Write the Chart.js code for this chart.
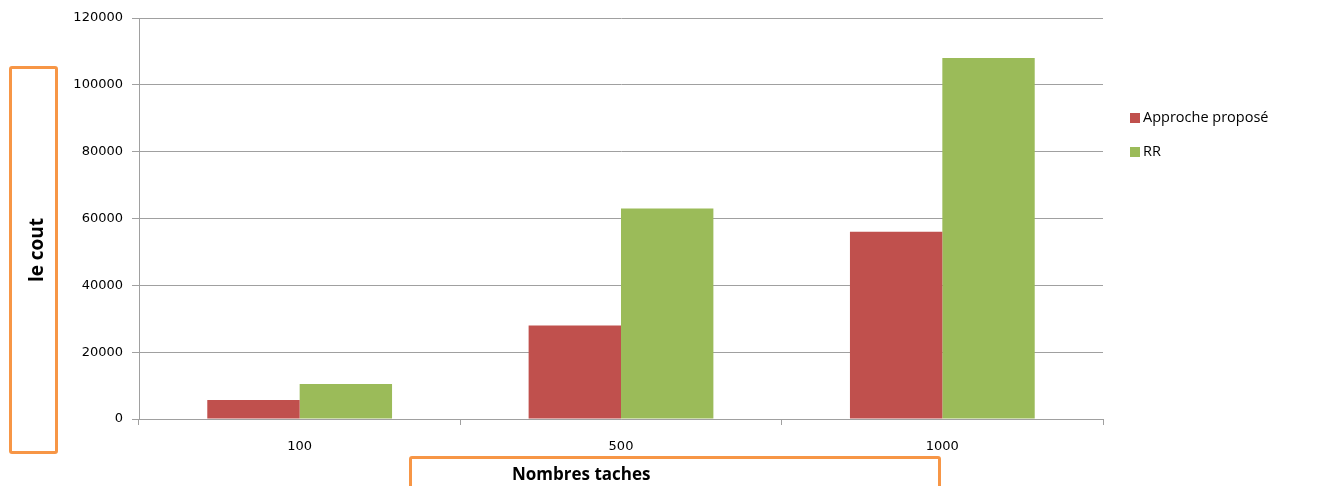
<!DOCTYPE html>
<html>
<head>
<meta charset="utf-8">
<script src="https://cdn.jsdelivr.net/npm/chart.js@4"></script>
<style>
    html, body { margin: 0; padding: 0; background: #fff; }
    #wrap { position: relative; width: 1324px; height: 486px; overflow: hidden; }
    canvas { position: absolute; left: 0; top: 0; }
    .box { position: absolute; border: 3px solid #F79646; border-radius: 3px; box-sizing: border-box; }
    .title { position: absolute; font-family: "Open Sans", sans-serif; font-weight: bold; color: #000; white-space: nowrap; line-height: 1; }
</style>
</head>
<body>
<div id="wrap">
    <canvas id="chart" width="1324" height="486"></canvas>
    <div class="box" style="left:9px; top:66px; width:49px; height:388px;"></div>
    <div class="box" style="left:409px; top:456px; width:532px; height:40px;"></div>
    <div class="title" style="left:36px; top:250px; font-size:19px; transform: translate(-50%, -50%) rotate(-90deg);">le cout</div>
    <div class="title" style="left:512px; top:465px; font-size:17px;">Nombres taches</div>
</div>
<script>
// Data
const categories = ['100', '500', '1000'];
const approcheValues = [5700, 28000, 56000];
const rrValues = [10500, 63000, 108000];
const yMax = 120000;
const yStep = 20000;

const axisColor = '#a0a0a0';

// Legend drawn to the right of the plot area
const sideLegend = {
    id: 'sideLegend',
    afterDraw(chart) {
        const ctx = chart.ctx;
        const x = chart.chartArea.right + 27;
        ctx.save();
        ctx.font = '14.5px "Open Sans", sans-serif';
        ctx.textBaseline = 'middle';
        chart.data.datasets.forEach((ds, i) => {
            const y = 118 + i * 34;
            ctx.fillStyle = ds.backgroundColor;
            ctx.fillRect(x, y - 5, 10, 10);
            ctx.fillStyle = '#000';
            ctx.fillText(ds.label, x + 13, y);
        });
        ctx.restore();
    }
};

new Chart(document.getElementById('chart'), {
    type: 'bar',
    data: {
        labels: categories,
        datasets: [
            {
                label: 'Approche proposé',
                data: approcheValues,
                backgroundColor: '#C0504D',
                categoryPercentage: 0.575,
                barPercentage: 1
            },
            {
                label: 'RR',
                data: rrValues,
                backgroundColor: '#9BBB59',
                categoryPercentage: 0.575,
                barPercentage: 1
            }
        ]
    },
    options: {
        responsive: false,
        animation: false,
        layout: {
            padding: { left: 0, top: 18, right: 221, bottom: 0 }
        },
        plugins: {
            legend: { display: false },
            tooltip: { enabled: false }
        },
        scales: {
            x: {
                grid: {
                    offset: true,
                    drawOnChartArea: false,
                    drawTicks: true,
                    tickLength: 6,
                    color: axisColor
                },
                border: { color: axisColor, width: 1 },
                ticks: {
                    color: '#000',
                    padding: 14,
                    font: { family: 'DejaVu Sans', size: 13 }
                },
                afterFit: function(scale) { scale.height = 67; }
            },
            y: {
                min: 0,
                max: yMax,
                grid: {
                    color: axisColor,
                    tickLength: 7
                },
                border: { color: axisColor, width: 1 },
                ticks: {
                    stepSize: yStep,
                    color: '#000',
                    padding: 9,
                    font: { family: 'DejaVu Sans', size: 13 },
                    callback: function(value) { return String(value); }
                },
                afterFit: function(scale) { scale.width = 139; }
            }
        }
    },
    plugins: [sideLegend]
});
</script>
</body>
</html>
